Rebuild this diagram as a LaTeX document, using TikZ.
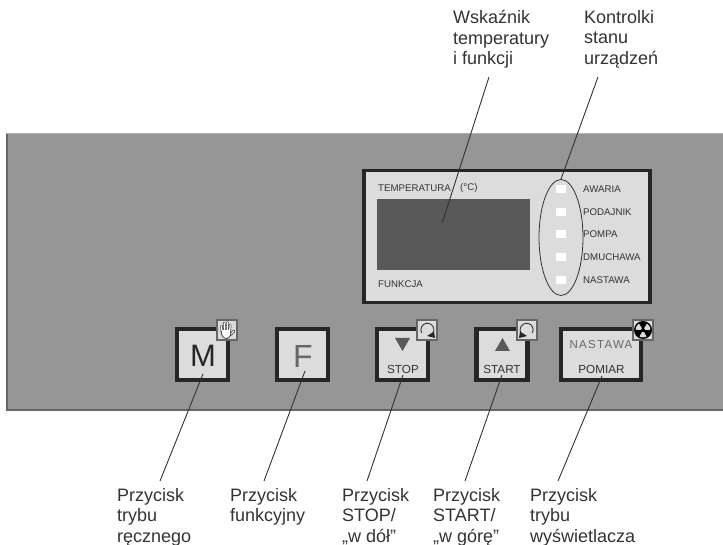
\documentclass[tikz,border=0pt]{standalone}
\usepackage{fontspec}
\usetikzlibrary{shapes.geometric}
\setmainfont{Liberation Sans}
\definecolor{panelgray}{HTML}{969696}
\definecolor{facegray}{HTML}{DCDCDC}
\definecolor{edgedark}{HTML}{262626}
\definecolor{screengray}{HTML}{595959}
\definecolor{inkgray}{HTML}{333333}
\definecolor{softgray}{HTML}{666666}
\tikzset{
  callout/.style={anchor=north west,inner sep=0pt,align=left,text=inkgray,font=\fontsize{18}{20.6}\selectfont},
  leader/.style={draw=inkgray,line width=0.9pt},
  keybox/.style={draw=edgedark,fill=facegray,line width=4.2pt,inner sep=0pt,minimum width=51pt,minimum height=51pt},
  iconbox/.style={draw=softgray,fill=facegray,line width=1.2pt,inner sep=0pt,minimum width=20pt,minimum height=20pt},
  tiny label/.style={anchor=west,inner sep=0pt,text=inkgray,font=\fontsize{9.7}{11}\selectfont},
  key label/.style={inner sep=0pt,text=inkgray,font=\fontsize{11.7}{13}\selectfont},
  led/.style={fill=white,draw=none,inner sep=0pt,minimum width=10pt,minimum height=8pt}
}
\begin{document}
\begin{tikzpicture}[x=1pt,y=-1pt]
\useasboundingbox (0,0) rectangle (723,545);
% panel
\node[fill=panelgray,inner sep=0pt,minimum width=717pt,minimum height=276pt,anchor=north west] (panel) at (6,134) {};
\fill[softgray] (6,409) rectangle (723,411);
\fill[softgray] (6,134) rectangle (8,411);
\fill[gray!60] (6,133) rectangle (723,134.5);
% display
\node[draw=edgedark,fill=facegray,line width=3.6pt,inner sep=0pt,minimum width=286pt,minimum height=132pt,anchor=center] (display) at (507,236.5) {};
\node[fill=screengray,inner sep=0pt,minimum width=153pt,minimum height=71pt] (screen) at (453.5,234.5) {};
\node[tiny label] (temp) at (378,188) {TEMPERATURA};
\node[tiny label] (degc) at (460,188) {(°C)};
\node[tiny label] (funk) at (378,284.5) {FUNKCJA};
\foreach \nm/\yy/\tx in {awaria/189/AWARIA,podajnik/212/PODAJNIK,pompa/234.5/POMPA,dmuchawa/257/DMUCHAWA,nastawa/280/NASTAWA}{
  \node[led] (led\nm) at (561,\yy) {};
  \node[tiny label] (lab\nm) at (583,\yy) {\tx};
}
\node[draw=inkgray,line width=0.8pt,ellipse,inner sep=0pt,minimum width=44pt,minimum height=116pt] (oval) at (561,237.5) {};
% keys
\node[keybox] (keyM) at (202.5,354.5) {};
\node[inner sep=0pt,text=black!85,font=\fontsize{31}{32}\selectfont] (letM) at (203,356) {M};
\node[keybox] (keyF) at (302.5,354.5) {};
\node[inner sep=0pt,text=softgray,font=\fontsize{32}{32}\selectfont] (letF) at (303,356) {F};
\node[keybox] (keyStop) at (402.5,354.5) {};
\node[key label] (stopt) at (403,369) {STOP};
\node[keybox] (keyStart) at (502,354.5) {};
\node[key label] (startt) at (502,369) {START};
\node[keybox,minimum width=80pt] (keyMode) at (601,354.5) {};
\node[key label] (pomt) at (601.5,369) {POMIAR};
\node[key label,text=softgray,font=\fontsize{11.5}{13}\selectfont\addfontfeature{LetterSpace=11}] (nast) at (601,344.5) {NASTAWA};
\fill[screengray] (395,338) -- (410,338) -- (402.5,351) -- cycle;
\fill[screengray] (495,351) -- (510,351) -- (502.5,338) -- cycle;
% icon boxes
\node[iconbox] (icoM) at (227,330) {};
\node[iconbox] (icoStop) at (427,330) {};
\node[iconbox] (icoStart) at (527,330) {};
\node[iconbox] (icoMode) at (643,330) {};
% hand
\begin{scope}[shift={(226,330)},line cap=round]
  \foreach \a/\b/\c/\d in {-4/2/-4.5/-4,-1.5/1/-1.8/-7,1.2/1/1.4/-7.5,3.6/2/4.2/-5,4/5/8/1}{
    \draw[black!80,line width=2.5pt] (\a,\b) -- (\c,\d);
    \draw[white,line width=1.3pt] (\a,\b) -- (\c,\d);
  }
  \draw[black!80,line width=.7pt,fill=white] (-4.8,1) .. controls (-5,6) and (-2,8.5) .. (1,8.5) .. controls (3,8.5) and (4.5,6) .. (5,2) -- (-4.8,1);
  \fill[white] (-3.9,0) rectangle (4.2,2);
\end{scope}
% rotation icons
\draw[inkgray,line width=.9pt] (433,333) arc[start angle=30,end angle=-210,radius=6.5];
\fill[edgedark] (427,336) -- (434,331.5) -- (435,338) -- cycle;
\draw[inkgray,line width=.9pt] (521,333) arc[start angle=150,end angle=390,radius=6.5];
\fill[edgedark] (527,336) -- (520,331.5) -- (519,338) -- cycle;
% radiation icon: dark disc, three light wedges between the blades
\begin{scope}[shift={(643,330)}]
  \fill[black] (0,0) circle[radius=9];
  \fill[facegray] (0,0) -- (7.5,-.3) -- (6.5,-3.75) -- (4,-6.4) -- cycle;
  \fill[facegray] (0,0) -- (-7.5,-.3) -- (-6.5,-3.75) -- (-4,-6.4) -- cycle;
  \fill[facegray] (0,0) -- (-3.5,6.6) -- (0,7.5) -- (3.5,6.6) -- cycle;
  \fill[black] (0,0) circle[radius=2];
\end{scope}
% callouts
\node[callout] (tWsk) at (453,10) {Wskaźnik\\temperatury\\i funkcji};
\node[callout] (tKon) at (584,10) {Kontrolki\\stanu\\urządzeń};
\node[callout] (bM) at (117,488) {Przycisk\\trybu\\ręcznego};
\node[callout] (bF) at (230,488) {Przycisk\\funkcyjny};
\node[callout] (bS) at (342,488) {Przycisk\\STOP/\\„w dół”};
\node[callout] (bU) at (433,488) {Przycisk\\START/\\„w górę”};
\node[callout] (bP) at (530,488) {Przycisk\\trybu\\wyświetlacza};
% connector ends
\coordinate (wTop) at (489,77);
\coordinate (wEnd) at (442.3,222.5);
\coordinate (kTop) at (598,77);
\coordinate (kEnd) at (561,179);
\coordinate (mIn) at (203,374);
\coordinate (mOut) at (160,481);
\coordinate (fIn) at (305,371);
\coordinate (fOut) at (264,481);
\coordinate (sIn) at (403,375);
\coordinate (sOut) at (367,481);
\coordinate (uIn) at (502,375);
\coordinate (uOut) at (465,481);
\coordinate (pIn) at (602,376);
\coordinate (pOut) at (558,481);
\draw[leader] (wTop) -- (wEnd);
\draw[leader] (kTop) -- (kEnd);
\draw[leader] (mIn) -- (mOut);
\draw[leader] (fIn) -- (fOut);
\draw[leader] (sIn) -- (sOut);
\draw[leader] (uIn) -- (uOut);
\draw[leader] (pIn) -- (pOut);
\end{tikzpicture}
\end{document}
